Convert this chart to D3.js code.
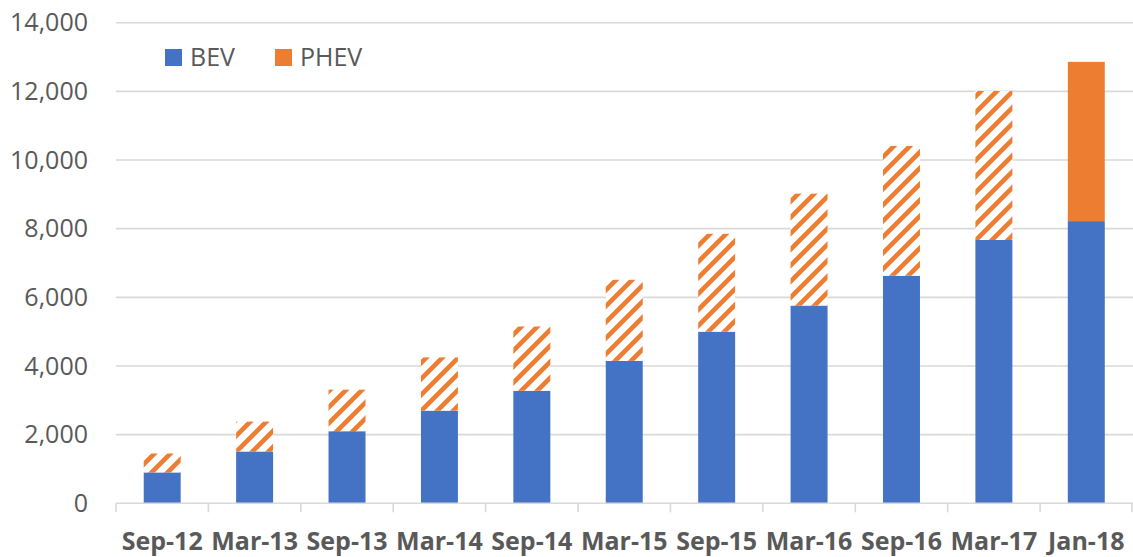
<!DOCTYPE html>
<html>
<head>
<meta charset="utf-8">
<script src="https://cdn.jsdelivr.net/npm/d3@7"></script>
<style>
  body { margin: 0; background: #fff; }
  svg { display: block; font-family: "Open Sans", sans-serif; }
</style>
</head>
<body>
<svg id="chart" width="1133" height="557"></svg>
<script>
const categories = ["Sep-12", "Mar-13", "Sep-13", "Mar-14", "Sep-14", "Mar-15",
                    "Sep-15", "Mar-16", "Sep-16", "Mar-17", "Jan-18"];
const bev  = [900, 1510, 2100, 2700, 3280, 4150, 5000, 5760, 6630, 7670, 8220];
const phev = [550, 870, 1210, 1550, 1870, 2360, 2850, 3260, 3780, 4340, 4640];
// PHEV split is estimated (hatched) for all but the latest column
const phevEstimated = [true, true, true, true, true, true, true, true, true, true, false];
const yTicks = [0, 2000, 4000, 6000, 8000, 10000, 12000, 14000];

const blue = "#4472C4", orange = "#ED7D31", textCol = "#595959", gridCol = "#D9D9D9";

const svg = d3.select("#chart");

const x = d3.scaleBand()
    .domain(categories)
    .range([116, 1132.5])
    .paddingInner(0.6)
    .paddingOuter(0.3);

const y = d3.scaleLinear()
    .domain([0, 14000])
    .range([503.3, 22.7]);

// hatch pattern for estimated PHEV
const defs = svg.append("defs");
const pat = defs.append("pattern")
    .attr("id", "hatch")
    .attr("patternUnits", "userSpaceOnUse")
    .attr("width", 16)
    .attr("height", 16);
pat.append("rect").attr("width", 16).attr("height", 16).attr("fill", "#fff");
pat.append("path")
    .attr("d", "M-4,4 L4,-4 M0,16 L16,0 M12,20 L20,12")
    .attr("stroke", orange)
    .attr("stroke-width", 4.6);

// gridlines
svg.append("g")
    .selectAll("line")
    .data(yTicks.filter(d => d > 0))
    .enter()
    .append("line")
    .attr("x1", 116)
    .attr("x2", 1133)
    .attr("y1", d => y(d))
    .attr("y2", d => y(d))
    .attr("stroke", gridCol)
    .attr("stroke-width", 1.6);

// y labels
svg.append("g")
    .selectAll("text")
    .data(yTicks)
    .enter()
    .append("text")
    .attr("x", 88)
    .attr("y", d => y(d))
    .attr("dy", "0.35em")
    .attr("text-anchor", "end")
    .attr("fill", textCol)
    .attr("font-size", 25)
    .text(d => d3.format(",")(d));

// stacked bars
const table = categories.map((c, i) => ({ cat: c, BEV: bev[i], PHEV: phev[i], est: phevEstimated[i] }));
const series = d3.stack().keys(["BEV", "PHEV"])(table);

svg.append("g")
    .selectAll("g")
    .data(series)
    .enter()
    .append("g")
    .selectAll("rect")
    .data(s => s.map(d => ({ key: s.key, d: d })))
    .enter()
    .append("rect")
    .attr("x", p => x(p.d.data.cat))
    .attr("width", x.bandwidth())
    .attr("y", p => y(p.d[1]))
    .attr("height", p => y(p.d[0]) - y(p.d[1]))
    .attr("fill", function(p) {
        if (p.key === "BEV") return blue;
        return p.d.data.est ? "url(#hatch)" : orange;
    });

// x axis line and category boundary ticks
const step = x.step();
const axis = svg.append("g");
axis.append("line")
    .attr("x1", 116).attr("x2", 1133)
    .attr("y1", y(0)).attr("y2", y(0))
    .attr("stroke", gridCol)
    .attr("stroke-width", 1.6);
axis.selectAll("line.tick")
    .data(d3.range(categories.length + 1))
    .enter()
    .append("line")
    .attr("class", "tick")
    .attr("x1", i => Math.min(116 + i * step, 1132))
    .attr("x2", i => Math.min(116 + i * step, 1132))
    .attr("y1", y(0))
    .attr("y2", y(0) + 9)
    .attr("stroke", gridCol)
    .attr("stroke-width", 1.6);

axis.selectAll("text")
    .data(categories)
    .enter()
    .append("text")
    .attr("x", d => x(d) + x.bandwidth() / 2)
    .attr("y", 550)
    .attr("text-anchor", "middle")
    .attr("fill", textCol)
    .attr("font-size", 25)
    .attr("font-weight", "bold")
    .text(d => d);

// legend
const legendItems = [
    { name: "BEV", color: blue, x: 165 },
    { name: "PHEV", color: orange, x: 275 }
];
const legend = svg.append("g")
    .selectAll("g")
    .data(legendItems)
    .enter()
    .append("g");
legend.append("rect")
    .attr("x", d => d.x)
    .attr("y", 49)
    .attr("width", 17)
    .attr("height", 17)
    .attr("fill", d => d.color);
legend.append("text")
    .attr("x", d => d.x + 25)
    .attr("y", 57.5)
    .attr("dy", "0.35em")
    .attr("fill", textCol)
    .attr("font-size", 25)
    .text(d => d.name);
</script>
</body>
</html>
